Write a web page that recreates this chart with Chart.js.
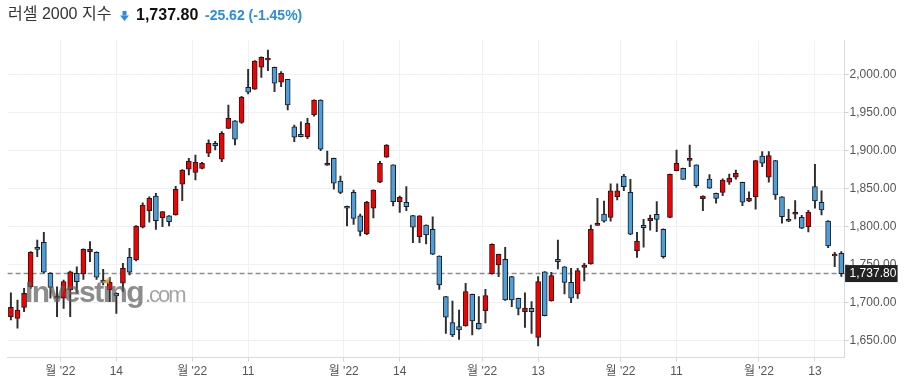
<!DOCTYPE html>
<html>
<head>
<meta charset="utf-8">
<script src="https://cdn.jsdelivr.net/npm/chart.js@4.4.1/dist/chart.umd.min.js"></script>
<style>
html,body{margin:0;padding:0;background:#fff;}
#wrap{position:relative;width:904px;height:387px;overflow:hidden;}
canvas{position:absolute;left:0;top:0;}
.t{position:absolute;white-space:nowrap;font-family:"Liberation Sans","Noto Sans CJK KR",sans-serif;}
#name{left:8px;top:6px;font-size:16px;line-height:16px;color:#333;}
#price{left:136px;top:6.5px;font-size:16px;line-height:16px;font-weight:bold;color:#111;}
#chg{left:205px;top:8px;font-size:14px;line-height:14px;font-weight:bold;color:#2a8de0;}
#arrow{position:absolute;left:120px;top:11px;}
</style>
</head>
<body>
<div id="wrap">
<canvas id="c" width="904" height="387"></canvas>
<div class="t" id="name">러셀 2000 지수</div>
<svg id="arrow" width="9" height="10" viewBox="0 0 9 10"><rect x="2.5" y="0" width="4" height="4.5" fill="#2a8de0"/><polygon points="0,4.5 9,4.5 4.5,10" fill="#2a8de0"/></svg>
<div class="t" id="price">1,737.80</div>
<div class="t" id="chg">-25.62 (-1.45%)</div>
</div>
<script>
// ---- data ----
const dates = [
'06-21','06-22','06-23','06-24','06-27','06-28','06-29','06-30',
'07-01','07-05','07-06','07-07','07-08','07-11','07-12','07-13','07-14','07-15','07-18','07-19','07-20','07-21','07-22','07-25','07-26','07-27','07-28','07-29',
'08-01','08-02','08-03','08-04','08-05','08-08','08-09','08-10','08-11','08-12','08-15','08-16','08-17','08-18','08-19','08-22','08-23','08-24','08-25','08-26','08-29','08-30','08-31',
'09-01','09-02','09-06','09-07','09-08','09-09','09-12','09-13','09-14','09-15','09-16','09-19','09-20','09-21','09-22','09-23','09-26','09-27','09-28','09-29','09-30',
'10-03','10-04','10-05','10-06','10-07','10-10','10-11','10-12','10-13','10-14','10-17','10-18','10-19','10-20','10-21','10-24','10-25','10-26','10-27','10-28','10-31',
'11-01','11-02','11-03','11-04','11-07','11-08','11-09','11-10','11-11','11-14','11-15','11-16','11-17','11-18','11-21','11-22','11-23','11-25','11-28','11-29','11-30',
'12-01','12-02','12-05','12-06','12-07','12-08','12-09','12-12','12-13','12-14','12-15','12-16','12-19'
];
const open = [
1681.1,1678.9,1693.4,1720.5,1772.4,1778.9,1738.2,1705.3,1705.3,1716.2,
1738.2,1737.2,1766.6,1765.8,1729.3,1716.2,1711.8,1725,1759.2,1755.7,
1798.7,1820.5,1839.9,1811.3,1813.6,1814.9,1855.3,1875,1871,1876.3,
1896.1,1909.2,1888.2,1928.9,1938.6,1936.8,1982.9,1980.3,2009.2,2018.8,
2009.2,1989.5,1993.4,1931,1921,1917.9,1946.4,1966.2,1880.3,1889.5,
1859.6,1826.3,1844.7,1813.6,1789.9,1823.7,1857.9,1890.8,1880.7,1832.4,
1831.6,1814,1786.3,1801.7,1796,1760.9,1707.4,1673.2,1667.9,1668.8,
1710.5,1672.4,1689,1737.2,1749.1,1756.6,1733.7,1705.3,1687.6,1692.1,
1653.9,1740,1701.7,1756.6,1746.8,1726.3,1710.9,1746,1750.4,1801.3,
1816.2,1811.8,1838.9,1866.2,1844.7,1767.9,1801.3,1807.4,1815.8,1796,
1811.8,1873.2,1876.3,1886.8,1880.7,1836.3,1862.2,1843.4,1844.7,1857.9,
1864.5,1857.9,1832.9,1838.9,1892.5,1864.5,1886.4,1838.9,1809.2,1815.8,
1811.8,1799.5,1852.1,1831.6,1807,1760.9,1764.5
];
const high = [
1712.6,1703,1718.4,1766.6,1781.9,1792,1739,1720.5,1729.3,1741,
1746.8,1770.5,1779.8,1766.5,1743.4,1732.9,1712.5,1751.3,1771,1801,
1831,1838.9,1843.4,1819.5,1814,1852.6,1874.5,1889.5,1893.8,1884,
1913.6,1911.8,1924.5,1959.6,1939,1971,2006.6,2018,2022.8,2032,
2009.5,2003.4,1993.5,1933.2,1937.6,1942.1,1966.5,1966.5,1899,1889.8,
1866,1826.5,1847.8,1816.2,1833,1848,1885.5,1907.5,1881,1839.9,
1852.1,1814.5,1814,1802,1812.6,1761,1707.8,1701.7,1689.9,1725,
1710.8,1707.4,1717,1776.8,1763.5,1772.4,1734,1705.5,1712.6,1700.8,
1733.7,1740.5,1739.4,1781.9,1747,1744.7,1744.7,1751.3,1801.7,1836.8,
1833.3,1855.7,1855.7,1868.4,1861.8,1792,1809.2,1814.9,1832.4,1796.5,
1868.8,1900.4,1876.5,1907,1881,1840,1868,1843.6,1862.5,1868.8,
1874.1,1858,1845.5,1886.8,1898.2,1898.2,1886.8,1839,1822.4,1833.7,
1814.5,1821,1881.6,1846.8,1807.5,1765.8,1766.6
];
const low = [
1676.7,1665.8,1687.6,1718.4,1760,1738.2,1705.3,1681.1,1692.1,1681,
1711.8,1730,1753.5,1730,1722.8,1700.8,1685.5,1713.9,1735.9,1754.5,
1798,1805.3,1796,1799.5,1800.4,1814.5,1833.7,1867.5,1860.9,1875.5,
1891.6,1900.4,1885,1928.5,1907,1935.5,1974,1980,1996,2004.7,
1977.1,1983.7,1953,1911.2,1917.5,1915.3,1945,1899.5,1880,1849,
1843,1800.4,1802.6,1787.2,1789,1811,1857.5,1890.5,1826.7,1818.4,
1820.5,1778.4,1778.4,1776.7,1762.8,1717,1659.2,1654.7,1651.3,1668.5,
1657,1664.5,1673,1737,1733.7,1702.5,1694.2,1683.3,1667,1659,
1642.5,1682,1701.5,1743.8,1711,1699.5,1705,1728,1750,1801,
1805.3,1806.6,1834.6,1846.8,1789,1759.2,1772.4,1795,1792.9,1758,
1811.5,1872.8,1861.5,1878.4,1851,1820.5,1849.8,1830.3,1840.4,1855,
1862,1827.2,1832.5,1822.4,1878.4,1858,1835.5,1804,1806.2,1809.6,
1797,1792.5,1823.7,1815,1772,1746.8,1734
];
const close = [
1693.4,1689.9,1711.8,1765.8,1769.7,1739.5,1719.7,1707.9,1727.1,1740,
1727.1,1769.7,1769.7,1732.9,1726.3,1726.3,1708.3,1744.7,1739.5,1800.4,
1828,1836.8,1807.4,1819.2,1806.1,1848.7,1874.1,1885.9,1884.2,1882.9,
1909.2,1906.1,1922.4,1942.1,1914.5,1969.7,1976.3,2017.5,2022.4,2021,
1988.2,2001.3,1959.6,1917.1,1917.9,1935.5,1966.2,1901.3,1882.9,1856.6,
1844.7,1823.7,1810.5,1793.4,1831.6,1847.8,1882.9,1907,1832.4,1838.2,
1825.8,1798.7,1813.6,1788.6,1763.2,1722.8,1680.3,1657,1663.6,1714,
1675.4,1664.9,1708.8,1776.3,1763.2,1703,1703,1692.1,1692.1,1687.6,
1727.1,1682.4,1735,1753.4,1726.3,1705.3,1741.6,1749.1,1796,1803.9,
1806.6,1846.8,1846.8,1852.1,1789.5,1780.7,1798.2,1810.5,1809.2,1760,
1868.4,1882.9,1861.8,1889.5,1853.4,1839.9,1850,1836.8,1860.9,1863.2,
1869.7,1831.6,1836.8,1886.4,1882.9,1892.9,1841.2,1812.6,1806.6,1818.4,
1797.4,1818.4,1833.3,1821.4,1774.1,1763.4,1737.8
];
const xTickDates  = ['07-01','07-14','08-01','08-11','09-01','09-14','10-03','10-13','11-01','11-11','12-01','12-13'];
const xTickLabels = ["월 '22","14","월 '22","11","월 '22","14","월 '22","13","월 '22","11","월 '22","13"];
const yTickValues = [1650,1700,1750,1800,1850,1900,1950,2000];
const lastPrice = 1737.80;

// ---- styling ----
const FONT = "'Liberation Sans','Noto Sans CJK KR',sans-serif";
const RED = '#f40000', BLUE = '#4d9fdc';
const N = dates.length;
// month ticks sit at the boundary before the first session of the month
const xTickPos = xTickDates.map((d,k) => dates.indexOf(d) - (xTickLabels[k].indexOf("'") >= 0 ? 0.5 : 0));

const bodyData = dates.map((d,i) => ({x:i, y:[open[i], close[i]]}));
const wickData = dates.map((d,i) => ({x:i, y:[low[i], high[i]]}));
const bodyColors = dates.map((d,i) => close[i] >= open[i] ? RED : BLUE);

const overlay = {
  id:'overlay',
  beforeDatasetsDraw(chart){
    const {ctx, chartArea:a, scales:{y}} = chart;
    const py = y.getPixelForValue(lastPrice);
    ctx.save();
    ctx.strokeStyle = '#8f8f8f';
    ctx.lineWidth = 1.5;
    ctx.setLineDash([5,3]);
    ctx.beginPath(); ctx.moveTo(a.left, py); ctx.lineTo(a.right, py); ctx.stroke();
    ctx.restore();
  },
  afterDatasetsDraw(chart){
    const {ctx} = chart;
    ctx.save();
    ctx.textBaseline = 'alphabetic';
    ctx.font = "bold 30px 'Liberation Sans', sans-serif";
    try{ ctx.letterSpacing = '-1.5px'; }catch(e){}
    ctx.fillStyle = 'rgba(95,95,95,0.72)';
    ctx.fillText('Investing', 25, 302);
    ctx.font = "22px 'Liberation Sans', sans-serif";
    try{ ctx.letterSpacing = '-2px'; }catch(e){}
    ctx.fillStyle = 'rgba(125,125,125,0.7)';
    ctx.fillText('.com', 145, 302);
    ctx.fillStyle = 'rgba(245,166,40,0.75)';
    ctx.beginPath(); ctx.moveTo(102,283); ctx.lineTo(110,276.5); ctx.lineTo(109,283.5); ctx.closePath(); ctx.fill();
    ctx.restore();
  },
  afterDraw(chart){
    const {ctx, chartArea:a, scales:{y}} = chart;
    const py = y.getPixelForValue(lastPrice);
    ctx.save();
    ctx.fillStyle = '#222';
    ctx.fillRect(a.right + 0.5, py - 8.5, 52.5, 17);
    ctx.fillStyle = '#fff';
    ctx.font = "12px " + FONT;
    ctx.textBaseline = 'middle';
    ctx.fillText(lastPrice.toLocaleString('en-US',{minimumFractionDigits:2,maximumFractionDigits:2}), a.right + 5, py + 0.5);
    ctx.restore();
  }
};

Chart.defaults.font.family = FONT;

new Chart(document.getElementById('c'), {
  type:'bar',
  data:{ datasets:[
    {data:bodyData, backgroundColor:bodyColors, borderColor:'#1c1c1c', borderWidth:1, borderSkipped:false,
     barThickness:5, grouped:false, order:0},
    {data:wickData, backgroundColor:'#2e2e2e', borderWidth:0, barThickness:1.3, grouped:false, order:1}
  ]},
  options:{
    responsive:false, animation:false, events:[],
    layout:{padding:{left:7.6, top:40, right:0, bottom:0}},
    plugins:{legend:{display:false}, tooltip:{enabled:false}},
    scales:{
      x:{
        type:'linear', min:-0.5, max:N-0.5, offset:false,
        afterBuildTicks(s){ s.ticks = xTickPos.map(v => ({value:v})); },
        afterFit(s){ s.height = 29.3; },
        ticks:{autoSkip:false, maxRotation:0, minRotation:0, padding:3, color:'#555',
               font:{size:12}, callback:(v,i) => xTickLabels[i]},
        grid:{offset:false, color:'#f1f1f3', tickColor:'#d6d6de', tickLength:4, drawTicks:true},
        border:{color:'#d9d9e3', width:1}
      },
      y:{
        position:'right', min:1627.1, max:2045.1,
        afterBuildTicks(s){ s.ticks = yTickValues.map(v => ({value:v})); },
        afterFit(s){ s.width = 59.4; },
        ticks:{padding:1, color:'#555', font:{size:12},
               callback:v => Number(v).toLocaleString('en-US',{minimumFractionDigits:2,maximumFractionDigits:2})},
        grid:{color:'#f1f1f3', tickColor:'#cfcfd8', tickLength:4, drawTicks:true},
        border:{color:'#d9d9e3', width:1}
      }
    }
  },
  plugins:[overlay]
});
</script>
</body>
</html>
